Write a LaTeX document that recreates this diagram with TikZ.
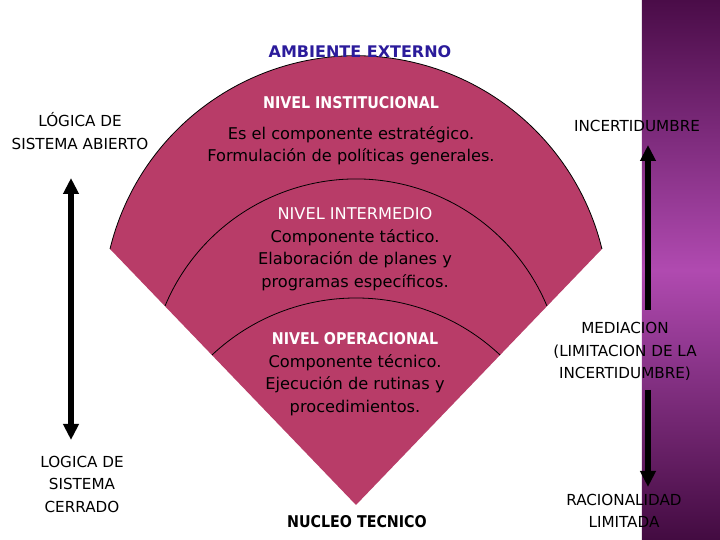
\documentclass[tikz,border=0pt]{standalone}
\usepackage{fontspec}
\setmainfont{DejaVu Sans}
\newfontfamily\narrowfont[FakeStretch=0.88]{DejaVu Sans}
\usetikzlibrary{positioning,arrows.meta}
\definecolor{sector}{RGB}{184,60,104}
\definecolor{indigo}{RGB}{43,27,155}
\definecolor{stripdark}{RGB}{74,12,72}
\definecolor{striplight}{RGB}{176,74,176}
\tikzset{level/.style={align=center,font=\fontsize{8.1}{11.25}\selectfont,text=black}}
\tikzset{head/.style={font=\fontsize{8.1}{11.25}\selectfont\narrowfont\bfseries,text=white}}
\tikzset{side/.style={align=center,font=\fontsize{7.6}{11.25}\selectfont}}
\tikzset{bigarrow/.style={line width=3pt,-{Triangle[width=7.5pt,length=8pt]}}}
\tikzset{arcline/.style={thin,black}}

\begin{document}
\begin{tikzpicture}[x=0.5pt,y=0.5pt]
  \useasboundingbox (0,0) rectangle (720,540);
  % purple strip on the right
  \shade[top color=stripdark,bottom color=stripdark!90!black,middle color=striplight] (642,0) rectangle (720,540);

  % the fan
  \coordinate (apex) at (356,35);
  \coordinate (tipL) at (110,291);
  \coordinate (tipR) at (602,291);
  \fill[sector] (apex) -- (tipL) arc[start angle=166.3,end angle=13.7,radius=253.2] -- cycle;
  \draw[arcline] (tipL) arc[start angle=166.3,end angle=13.7,radius=253.2];
  \draw[arcline] (165,234) arc[start angle=157.25,end angle=22.75,radius=207.1];
  \draw[arcline] (212,185) arc[start angle=133.2,end angle=46.8,radius=210.4];

  \node[font=\fontsize{8}{10}\selectfont\bfseries,text=indigo] (ambiente) at (360,488) {AMBIENTE EXTERNO};

  \node[head] (institucional) at (351,437) {NIVEL INSTITUCIONAL};
  \node[level] (estrategico) at (351,394.5) {Es el componente estratégico.\\Formulación de políticas generales.};
  \node[level] (intermedio) at (355,291) {{\color{white}NIVEL INTERMEDIO}\\Componente táctico.\\Elaboración de planes y\\programas específicos.};
  \node[level] (operacional) at (355,166) {{\color{white}\narrowfont\bfseries NIVEL OPERACIONAL}\\Componente técnico.\\Ejecución de rutinas y\\procedimientos.};
  \node[head,text=black] (nucleo) at (357,18) {NUCLEO TECNICO};

  % left side
  \node[side] (abierto) at (80,409) {LÓGICA DE\\SISTEMA ABIERTO};
  \node[side] (cerrado) at (82,56) {LOGICA DE\\SISTEMA\\CERRADO};
  \coordinate (l1) at (71,362);
  \coordinate (l2) at (71,100);
  \draw[bigarrow,{Triangle[width=7.5pt,length=8pt]}-{Triangle[width=7.5pt,length=8pt]}] (l2) -- (l1);

  % right side
  \node[side] (incert) at (637,414) {INCERTIDUMBRE};
  \node[side] (mediacion) at (625,188.5) {MEDIACION\\(LIMITACION DE LA\\INCERTIDUMBRE)};
  \node[side] (racional) at (624,29) {RACIONALIDAD\\LIMITADA};
  \coordinate (r1) at (648,230);
  \coordinate (r2) at (648,395);
  \coordinate (r3) at (648,150);
  \coordinate (r4) at (648,53);
  \draw[bigarrow] (r1) -- (r2);
  \draw[bigarrow] (r3) -- (r4);
\end{tikzpicture}
\end{document}
